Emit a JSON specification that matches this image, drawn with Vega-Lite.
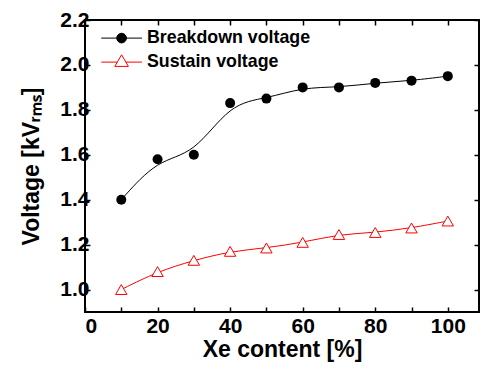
{
  "$schema": "https://vega.github.io/schema/vega-lite/v6.json",
  "width": 394,
  "height": 292,
  "autosize": "none",
  "padding": {"left": 85, "top": 20, "right": 1, "bottom": 59},
  "background": "white",
  "config": {
    "view": {"stroke": "black", "strokeWidth": 2},
    "font": "Liberation Sans",
    "axis": {
      "domain": false,
      "grid": false,
      "tickColor": "black",
      "tickWidth": 1.5,
      "tickSize": -5,
      "labelFont": "Liberation Sans",
      "labelFontWeight": "bold",
      "labelFontSize": 21,
      "labelColor": "black",
      "titleFont": "Liberation Sans",
      "titleFontWeight": "bold",
      "titleFontSize": 23,
      "titleColor": "black"
    },
    "legend": {
      "title": null,
      "orient": "none",
      "legendX": 27.7,
      "legendY": 9.2,
      "padding": 0,
      "symbolSize": 94,
      "symbolStrokeWidth": 1,
      "symbolOpacity": 1,
      "labelFont": "Liberation Sans",
      "labelFontWeight": "bold",
      "labelFontSize": 17.8,
      "labelColor": "black",
      "labelOffset": 16.5,
      "labelLimit": 300,
      "rowPadding": 5
    }
  },
  "data": {
    "values": [
      {"xe": 10, "v": 1.40, "series": "Breakdown voltage"},
      {"xe": 20, "v": 1.58, "series": "Breakdown voltage"},
      {"xe": 30, "v": 1.60, "series": "Breakdown voltage"},
      {"xe": 40, "v": 1.83, "series": "Breakdown voltage"},
      {"xe": 50, "v": 1.85, "series": "Breakdown voltage"},
      {"xe": 60, "v": 1.90, "series": "Breakdown voltage"},
      {"xe": 70, "v": 1.90, "series": "Breakdown voltage"},
      {"xe": 80, "v": 1.92, "series": "Breakdown voltage"},
      {"xe": 90, "v": 1.93, "series": "Breakdown voltage"},
      {"xe": 100, "v": 1.95, "series": "Breakdown voltage"},
      {"xe": 10, "v": 1.00, "series": "Sustain voltage"},
      {"xe": 20, "v": 1.08, "series": "Sustain voltage"},
      {"xe": 30, "v": 1.13, "series": "Sustain voltage"},
      {"xe": 40, "v": 1.17, "series": "Sustain voltage"},
      {"xe": 50, "v": 1.185, "series": "Sustain voltage"},
      {"xe": 60, "v": 1.21, "series": "Sustain voltage"},
      {"xe": 70, "v": 1.245, "series": "Sustain voltage"},
      {"xe": 80, "v": 1.254, "series": "Sustain voltage"},
      {"xe": 90, "v": 1.274, "series": "Sustain voltage"},
      {"xe": 100, "v": 1.305, "series": "Sustain voltage"}
    ]
  },
  "layer": [
    {
      "transform": [{"filter": "datum.series === 'Breakdown voltage'"}],
      "mark": {"type": "line", "interpolate": "basis", "strokeWidth": 1, "color": "black"},
      "encoding": {
        "x": {
          "field": "xe", "type": "quantitative",
          "scale": {"domain": [0, 108.6], "nice": false, "zero": false},
          "axis": {
            "orient": "bottom",
            "title": "Xe content [%]",
            "values": [0, 10, 20, 30, 40, 50, 60, 70, 80, 90, 100],
            "labelExpr": "datum.value % 20 === 0 ? datum.label : ''",
            "labelPadding": 8,
            "titlePadding": 2
          }
        },
        "y": {
          "field": "v", "type": "quantitative",
          "scale": {"domain": [0.9, 2.2], "nice": false, "zero": false},
          "axis": {
            "orient": "left",
            "title": "Voltage [kVᵣₘₛ]",
            "values": [1.0, 1.2, 1.4, 1.6, 1.8, 2.0, 2.2],
            "format": ".1f",
            "labelPadding": 1,
            "titlePadding": 16
          }
        }
      }
    },
    {
      "transform": [{"filter": "datum.series === 'Sustain voltage'"}],
      "mark": {"type": "line", "interpolate": "basis", "strokeWidth": 1, "color": "#ff0000"},
      "encoding": {
        "x": {"field": "xe", "type": "quantitative", "axis": null},
        "y": {"field": "v", "type": "quantitative", "axis": null}
      }
    },
    {
      "transform": [{"filter": "datum.series === 'Breakdown voltage'"}],
      "mark": {"type": "point", "shape": "circle", "filled": true, "color": "black", "size": 100, "opacity": 1},
      "encoding": {
        "x": {
          "field": "xe", "type": "quantitative",
          "axis": {"orient": "top", "title": null, "labels": false, "values": [0, 10, 20, 30, 40, 50, 60, 70, 80, 90, 100]}
        },
        "y": {
          "field": "v", "type": "quantitative",
          "axis": {"orient": "right", "title": null, "labels": false, "values": [1.0, 1.2, 1.4, 1.6, 1.8, 2.0, 2.2]}
        }
      }
    },
    {
      "transform": [{"filter": "datum.series === 'Sustain voltage'"}],
      "mark": {"type": "point", "shape": "triangle-up", "filled": false, "fill": "white", "stroke": "#ff0000", "strokeWidth": 1, "size": 130, "opacity": 1},
      "encoding": {
        "x": {"field": "xe", "type": "quantitative", "axis": null},
        "y": {"field": "v", "type": "quantitative", "axis": null}
      }
    },
    {
      "transform": [{"filter": "datum.xe < 0"}],
      "mark": {"type": "point", "size": 94, "opacity": 1, "strokeWidth": 1},
      "encoding": {
        "x": {"field": "xe", "type": "quantitative", "axis": null},
        "y": {"field": "v", "type": "quantitative", "axis": null},
        "shape": {
          "field": "series", "type": "nominal",
          "scale": {
            "domain": ["Breakdown voltage", "Sustain voltage"],
            "range": [
              "M-4.2,0H4.2M1,0A1,1 0 1,1 -1,0A1,1 0 1,1 1,0Z",
              "M-4.2,0H-0.88M0.88,0H4.2M0,-1.51L1.4,0.89L-1.4,0.89Z"
            ]
          },
          "legend": {"title": null}
        },
        "fill": {
          "field": "series", "type": "nominal",
          "scale": {"domain": ["Breakdown voltage", "Sustain voltage"], "range": ["black", "white"]},
          "legend": {"title": null}
        },
        "stroke": {
          "field": "series", "type": "nominal",
          "scale": {"domain": ["Breakdown voltage", "Sustain voltage"], "range": ["black", "#ff0000"]},
          "legend": {"title": null}
        }
      }
    }
  ]
}
